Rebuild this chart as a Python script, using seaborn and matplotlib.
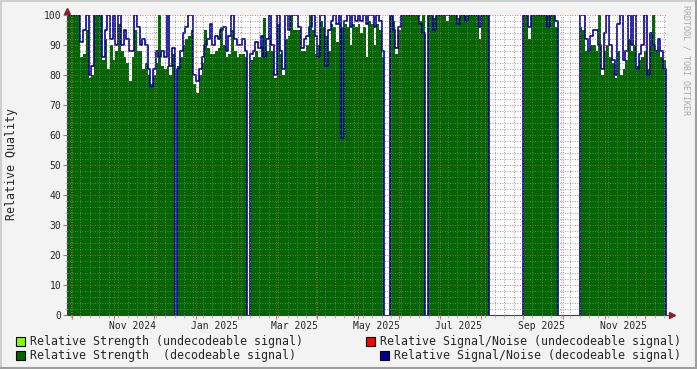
import numpy as np
import pandas as pd
import seaborn as sns
import matplotlib
matplotlib.use("Agg")
import matplotlib.pyplot as plt
import matplotlib.dates as mdates
from matplotlib.ticker import MultipleLocator, NullFormatter
from matplotlib.patches import Rectangle
from matplotlib.lines import Line2D

# start date of each block of data, values every 2 days
seg_starts = ["2024-09-27", "2024-12-18", "2025-02-10", "2025-05-25",
              "2025-06-22", "2025-09-01", "2025-10-13"]

seg1_strength = [100, 100, 100, 100, 100, 86, 87, 95, 79, 80, 100, 100, 100, 85, 92, 82, 90, 85, 88, 97,
                 88, 86, 84, 78, 86, 95, 88, 88, 82, 84, 80, 77, 80, 84, 100, 83, 82, 83, 80, 87]
seg1_snr = [100, 100, 100, 100, 100, 91, 95, 100, 80, 83, 100, 100, 100, 86, 95, 100, 92, 100, 90, 100,
            90, 95, 92, 88, 88, 100, 96, 90, 92, 90, 82, 76, 82, 88, 86, 88, 86, 100, 83, 89]

seg2_strength = [83, 86, 90, 92, 93, 95, 77, 74, 80, 84, 95, 89, 87, 87, 88, 89, 96, 90, 86, 87,
                 95, 88, 86, 87, 87, 86]
seg2_snr = [82, 88, 94, 96, 100, 100, 80, 78, 82, 86, 90, 92, 97, 90, 93, 92, 95, 96, 88, 93,
            100, 92, 90, 90, 92, 88]

seg3_strength = [85, 86, 88, 86, 90, 99, 88, 93, 88, 79, 97, 87, 80, 92, 93, 100, 95, 95, 95, 88,
                 88, 90, 100, 95, 87, 90, 98, 96, 93, 88, 97, 96, 91, 97, 96, 97, 96, 90, 97, 96,
                 97, 94, 96, 86, 98, 97, 90, 97, 95, 86]
seg3_snr = [87, 88, 91, 89, 93, 86, 92, 100, 90, 80, 100, 88, 82, 100, 95, 100, 100, 100, 96, 89,
            92, 93, 96, 100, 93, 86, 100, 100, 83, 95, 98, 100, 97, 100, 59, 98, 100, 96, 100, 98,
            100, 98, 100, 97, 100, 100, 96, 100, 98, 88]

seg4_strength = [100, 98, 87, 95, 100, 100, 100, 100, 100, 100, 100, 98, 100]
seg4_snr = [100, 95, 89, 96, 100, 100, 100, 100, 100, 100, 100, 97, 94]

seg5_strength = [100, 100, 99, 100, 100, 100, 100, 98, 100, 100, 100, 99, 100, 100, 100, 100, 100,
                 100, 100, 92, 100, 100, 100]
seg5_snr = [100, 100, 95, 100, 100, 100, 100, 100, 100, 100, 100, 97, 100, 100, 98, 100, 100,
            100, 100, 96, 100, 100, 100]

seg6_strength = [100, 100, 92, 100, 100, 100, 100, 100, 100, 100, 100, 100, 96]
seg6_snr = [100, 100, 96, 100, 100, 100, 100, 100, 100, 96, 100, 100, 98]

seg7_strength = [96, 95, 88, 88, 90, 90, 88, 100, 80, 88, 90, 86, 84, 79, 88, 80, 82, 85, 92, 88,
                 90, 83, 85, 86, 88, 82, 90, 100, 88, 88, 86, 85]
seg7_snr = [100, 100, 92, 88, 93, 95, 95, 90, 82, 94, 100, 90, 85, 80, 97, 100, 85, 88, 100, 90,
            100, 82, 87, 90, 100, 80, 94, 90, 88, 92, 88, 82]

strength_segs = [seg1_strength, seg2_strength, seg3_strength, seg4_strength,
                 seg5_strength, seg6_strength, seg7_strength]
snr_segs = [seg1_snr, seg2_snr, seg3_snr, seg4_snr, seg5_snr, seg6_snr, seg7_snr]

label_dates = ["2024-11-15", "2025-01-15", "2025-03-15", "2025-05-15",
               "2025-07-15", "2025-09-15", "2025-11-15"]
label_text = ["Nov 2024", "Jan 2025", "Mar 2025", "May 2025", "Jul 2025", "Sep 2025", "Nov 2025"]
x_range = ["2024-09-27", "2025-12-17"]

legend_items = [
    ("Relative Strength (undecodeable signal)", "#80ff00"),
    ("Relative Strength  (decodeable signal)", "#006600"),
    ("Relative Signal/Noise (undecodeable signal)", "#ff0000"),
    ("Relative Signal/Noise (decodeable signal)", "#000099"),
]

W, H = 697, 369
sns.set_style("white")
plt.rcParams["font.family"] = ["DejaVu Sans Mono", "DejaVu Sans"]

fig = plt.figure(figsize=(W / 100, H / 100), dpi=100, facecolor="#f3f3f3")
ax = fig.add_axes([67 / W, 54 / H, 600 / W, 300 / H])
ax.set_facecolor("white")

rows = []
for k, (start, st, sn) in enumerate(zip(seg_starts, strength_segs, snr_segs)):
    dates = pd.date_range(start, periods=len(st) + 1, freq="2D")
    ax.fill_between(dates, list(st) + [st[-1]], step="post", color="#006600", lw=0, zorder=1)
    # line drops to the baseline at the edges of each block (first block starts off-canvas)
    if k == 0:
        xs = list(dates) + [dates[-1]]
        ys = list(sn) + [sn[-1], 0]
    else:
        xs = [dates[0]] + list(dates) + [dates[-1]]
        ys = [0] + list(sn) + [sn[-1], 0]
    for x, y in zip(xs, ys):
        rows.append({"date": x, "snr": y, "seg": k})
df = pd.DataFrame(rows)

sns.lineplot(data=df, x="date", y="snr", units="seg", estimator=None, sort=False,
             drawstyle="steps-post", color="#000099", lw=1.2, ax=ax, legend=False, zorder=2)

ax.set_xlim(pd.to_datetime(x_range[0]), pd.to_datetime(x_range[1]))
ax.set_ylim(0, 100)
ax.set_xlabel("")
ax.set_ylabel("")

ax.xaxis.set_major_locator(mdates.MonthLocator())
ax.xaxis.set_minor_locator(mdates.WeekdayLocator(byweekday=mdates.MO))
ax.xaxis.set_major_formatter(NullFormatter())
ax.yaxis.set_major_locator(MultipleLocator(10))
ax.yaxis.set_minor_locator(MultipleLocator(2))

ax.set_axisbelow(False)
ax.grid(which="minor", color=(0.5, 0.5, 0.5, 0.33), ls=(0, (1, 2)), lw=0.6)
ax.grid(which="major", color=(0.87, 0.3, 0.3, 0.3), ls=(0, (1, 2)), lw=0.6)

ax.tick_params(axis="x", which="major", length=3, color="#e07070", width=0.8)
ax.tick_params(axis="x", which="minor", length=2, color="#b0b0b0", width=0.6)
ax.tick_params(axis="y", which="major", length=3, color="#808080", width=0.8,
               labelsize=7, pad=1)
ax.tick_params(axis="y", which="minor", length=1.5, color="#b0b0b0", width=0.6)
ax.tick_params(axis="both", which="both", left=True, bottom=True)

sec = ax.secondary_xaxis("bottom")
sec.set_xticks(mdates.date2num(pd.to_datetime(label_dates)), label_text)
sec.tick_params(length=0, labelsize=7, pad=4)
sec.spines["bottom"].set_visible(False)

for s in ["top", "right"]:
    ax.spines[s].set_visible(False)
for s in ["left", "bottom"]:
    ax.spines[s].set_color("#404040")
    ax.spines[s].set_linewidth(0.8)

# axis arrows
ax.plot([1.0, 1.008], [0, 0], transform=ax.transAxes, clip_on=False, color="#404040", lw=0.8)
ax.plot([0, 0], [1.0, 1.01], transform=ax.transAxes, clip_on=False, color="#404040", lw=0.8)
ax.plot([1.008], [0], marker=">", ms=4, color="#8b2020", transform=ax.transAxes, clip_on=False)
ax.plot([0], [1.015], marker="^", ms=4, color="#8b2020", transform=ax.transAxes, clip_on=False)

fig.text(12 / W, 1 - 164 / H, "Relative Quality", rotation=90, va="center", ha="center", fontsize=8.4)
fig.text(686 / W, 1 - 60 / H, "RRDTOOL / TOBI OETIKER", rotation=270, va="center", ha="center",
         fontsize=6, color="#a8a8a8")

# legend
leg_pos = [(16, 341, 30, "left"), (16, 355, 30, "left"),
           (366, 341, 380, "left"), (380, 355, 394, "left")]
for (label, col), (sx, sy, tx, ha) in zip(legend_items, leg_pos):
    fig.add_artist(Rectangle((sx / W, 1 - (sy + 4.5) / H), 9 / W, 9 / H, facecolor=col,
                             edgecolor="black", lw=0.8, transform=fig.transFigure))
    fig.text(tx / W, 1 - sy / H, label, va="center", ha=ha, fontsize=8.4)

# frame shading
fig.add_artist(Line2D([0, 1], [1 - 1 / H, 1 - 1 / H], color="#cfcfcf", lw=1.5, transform=fig.transFigure))
fig.add_artist(Line2D([1 / W, 1 / W], [0, 1], color="#cfcfcf", lw=1.5, transform=fig.transFigure))
fig.add_artist(Line2D([0, 1], [1 / H, 1 / H], color="#9e9e9e", lw=1.5, transform=fig.transFigure))
fig.add_artist(Line2D([1 - 1 / W, 1 - 1 / W], [0, 1], color="#9e9e9e", lw=1.5, transform=fig.transFigure))

fig.savefig("out.png", dpi=100, facecolor=fig.get_facecolor())
